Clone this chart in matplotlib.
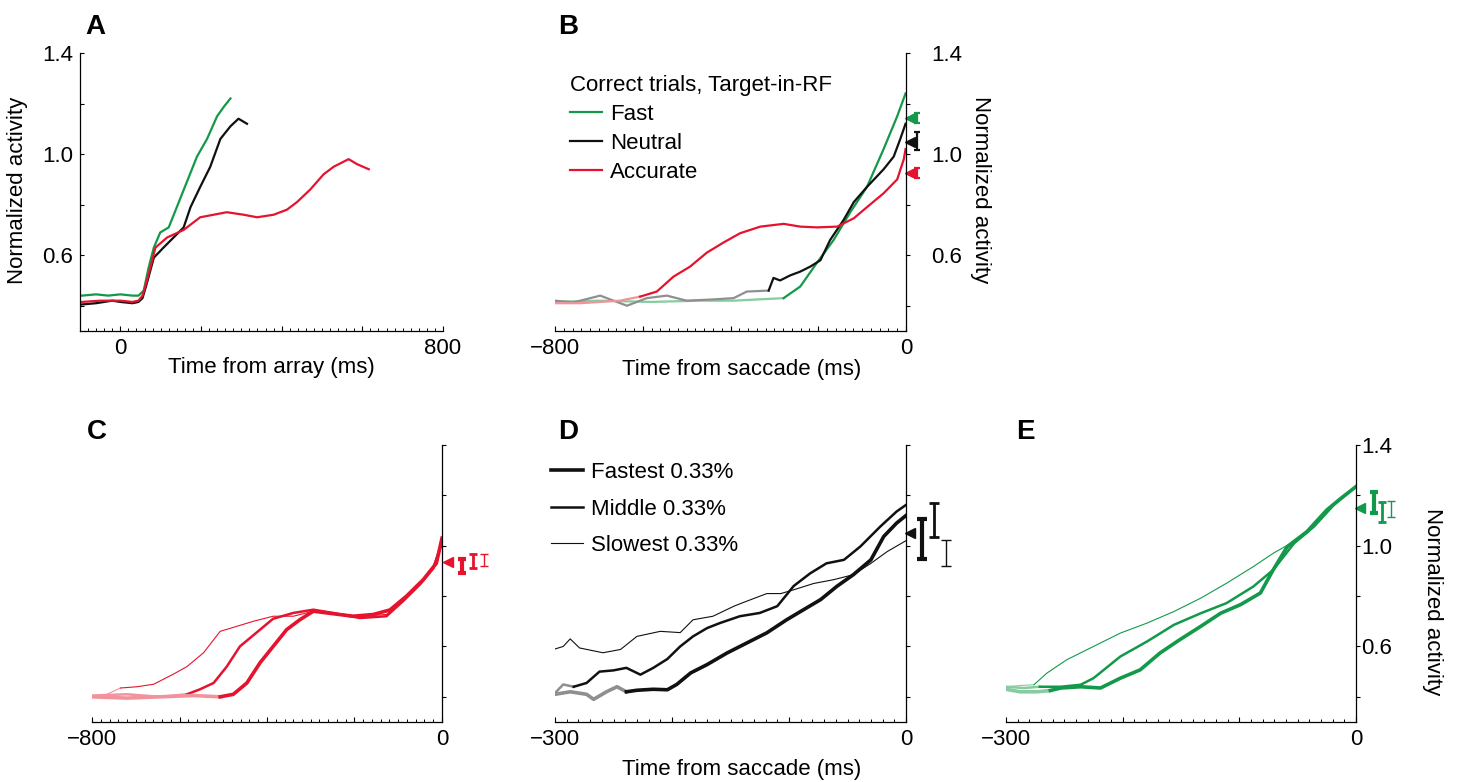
import matplotlib
matplotlib.use("Agg")
import matplotlib.pyplot as plt
import numpy as np
from matplotlib.ticker import MultipleLocator

plt.rcParams['font.family'] = ['Liberation Sans', 'DejaVu Sans']
plt.rcParams['font.size'] = 16

# ---------------- colours ----------------
GREEN = '#13994a'
LGREEN = '#86cc9e'
RED = '#e6132e'
PINK = '#f2929c'
BLACK = '#111111'
GRAY = '#8f8f8f'

# ---------------- Panel A: time from array ----------------
a_fast_t = [-95, -60, -30, 0, 30, 45, 58, 70, 83, 99, 120, 140, 165, 190, 215, 240, 258, 273]
a_fast_v = [0.44, 0.445, 0.44, 0.445, 0.44, 0.44, 0.46, 0.55, 0.63, 0.69, 0.71, 0.79, 0.89, 0.99, 1.06, 1.15, 1.19, 1.22]
a_neut_t = [-95, -60, -20, 0, 30, 45, 55, 66, 83, 107, 132, 157, 174, 198, 223, 248, 273, 293, 314]
a_neut_v = [0.405, 0.41, 0.42, 0.415, 0.41, 0.415, 0.43, 0.49, 0.59, 0.63, 0.67, 0.71, 0.79, 0.87, 0.95, 1.06, 1.11, 1.14, 1.12]
a_acc_t = [-95, -50, 0, 30, 45, 55, 66, 87, 116, 157, 198, 231, 264, 306, 339, 380, 413, 438, 471, 504, 529, 566, 587, 616]
a_acc_v = [0.415, 0.42, 0.42, 0.415, 0.42, 0.44, 0.50, 0.63, 0.67, 0.70, 0.75, 0.76, 0.77, 0.76, 0.75, 0.76, 0.78, 0.81, 0.86, 0.92, 0.95, 0.98, 0.96, 0.94]

# ---------------- Panel B: time from saccade ----------------
b_fast_t = [-800, -697, -583, -469, -393, -279, -241, -203, -165, -127, -89, -51, -20, -1]
b_fast_v = [0.416, 0.42, 0.415, 0.42, 0.42, 0.43, 0.476, 0.57, 0.66, 0.77, 0.87, 1.02, 1.15, 1.24]
b_fast_onset = -279
b_neut_t = [-800, -758, -697, -636, -591, -545, -500, -439, -393, -363, -313, -302, -287, -264, -241, -218, -195, -173, -142, -119, -89, -51, -28, -13, -1]
b_neut_v = [0.42, 0.413, 0.44, 0.40, 0.43, 0.44, 0.42, 0.425, 0.43, 0.456, 0.46, 0.51, 0.50, 0.52, 0.535, 0.555, 0.58, 0.66, 0.74, 0.81, 0.87, 0.94, 0.99, 1.06, 1.12]
b_neut_onset = -313
b_acc_t = [-800, -743, -697, -652, -606, -568, -530, -492, -454, -416, -378, -332, -279, -241, -203, -157, -119, -89, -51, -20, -5, -1]
b_acc_v = [0.41, 0.41, 0.415, 0.42, 0.436, 0.456, 0.515, 0.555, 0.61, 0.65, 0.687, 0.713, 0.724, 0.713, 0.71, 0.713, 0.746, 0.79, 0.845, 0.90, 0.98, 1.02]
b_acc_onset = -606
b_labels = ['Fast', 'Neutral', 'Accurate']
b_err_mean = [1.143, 1.049, 0.925]
b_err_lo = [1.123, 1.017, 0.905]
b_err_hi = [1.163, 1.089, 0.945]

# ---------------- Panel C: accurate, RT tertiles ----------------
c_slow_t = [-800, -766, -735, -697, -659, -614, -583, -545, -507, -469, -431, -386, -340, -294, -249, -188, -127, -89, -51, -20, 0]
c_slow_v = [0.40, 0.41, 0.435, 0.44, 0.45, 0.49, 0.52, 0.575, 0.66, 0.68, 0.70, 0.72, 0.72, 0.74, 0.733, 0.72, 0.727, 0.785, 0.85, 0.92, 1.02]
c_slow_onset = -735
c_mid_t = [-800, -720, -644, -583, -553, -522, -492, -462, -424, -386, -340, -294, -249, -188, -127, -89, -51, -20, 0]
c_mid_v = [0.405, 0.41, 0.40, 0.41, 0.43, 0.455, 0.52, 0.60, 0.655, 0.71, 0.733, 0.746, 0.733, 0.713, 0.72, 0.78, 0.845, 0.91, 1.01]
c_mid_onset = -583
c_fast_t = [-800, -720, -644, -568, -507, -477, -446, -416, -386, -355, -325, -294, -249, -203, -157, -119, -81, -43, -13, 0]
c_fast_v = [0.40, 0.395, 0.40, 0.405, 0.40, 0.41, 0.455, 0.535, 0.60, 0.667, 0.706, 0.74, 0.73, 0.72, 0.727, 0.745, 0.80, 0.865, 0.93, 1.03]
c_fast_onset = -507
c_err_mean = [0.936, 0.920, 0.940, 0.944]
c_err_lo = [0.892, 0.912, 0.920]
c_err_hi = [0.948, 0.967, 0.967]

# ---------------- Panel D: neutral, RT tertiles ----------------
d_slow_t = [-300, -293, -287, -279, -259, -244, -230, -210, -193, -182, -165, -147, -136, -119, -107, -96, -79, -62, -45, -30, -16, 0]
d_slow_v = [0.59, 0.60, 0.63, 0.594, 0.575, 0.588, 0.64, 0.66, 0.655, 0.706, 0.72, 0.76, 0.78, 0.81, 0.81, 0.825, 0.85, 0.865, 0.885, 0.93, 0.977, 1.02]
d_slow_onset = -300
d_mid_t = [-300, -293, -284, -273, -262, -250, -239, -227, -216, -204, -193, -182, -170, -159, -142, -125, -110, -96, -82, -68, -53, -39, -22, -8, 0]
d_mid_v = [0.415, 0.449, 0.44, 0.455, 0.50, 0.505, 0.515, 0.488, 0.515, 0.55, 0.60, 0.64, 0.673, 0.693, 0.72, 0.733, 0.76, 0.84, 0.89, 0.93, 0.944, 0.997, 1.076, 1.136, 1.162]
d_mid_onset = -284
d_fast_t = [-300, -287, -273, -267, -256, -247, -239, -230, -216, -204, -196, -184, -170, -153, -136, -119, -102, -85, -73, -59, -45, -30, -19, -8, 0]
d_fast_v = [0.41, 0.42, 0.41, 0.39, 0.42, 0.44, 0.42, 0.426, 0.43, 0.428, 0.449, 0.495, 0.528, 0.574, 0.614, 0.654, 0.706, 0.753, 0.786, 0.839, 0.885, 0.944, 1.037, 1.09, 1.12]
d_fast_onset = -239
d_labels = ['Fastest 0.33%', 'Middle 0.33%', 'Slowest 0.33%']
d_err_lo = [0.948, 1.036, 0.920]
d_err_hi = [1.105, 1.169, 1.023]
d_err_mean = 1.05

# ---------------- Panel E: fast, RT tertiles ----------------
e_slow_t = [-300, -288, -276, -265, -248, -225, -202, -179, -156, -133, -111, -88, -71, -53, -36, -19, 0]
e_slow_v = [0.44, 0.445, 0.448, 0.494, 0.547, 0.60, 0.653, 0.693, 0.739, 0.792, 0.851, 0.917, 0.97, 1.017, 1.076, 1.162, 1.235]
e_slow_onset = -276
e_mid_t = [-300, -285, -271, -253, -236, -225, -202, -179, -156, -133, -111, -88, -71, -53, -36, -19, 0]
e_mid_v = [0.44, 0.435, 0.44, 0.44, 0.448, 0.474, 0.56, 0.62, 0.686, 0.732, 0.772, 0.838, 0.904, 1.01, 1.076, 1.162, 1.235]
e_mid_onset = -271
e_fast_t = [-300, -288, -273, -262, -253, -236, -219, -202, -185, -168, -151, -133, -116, -99, -82, -71, -59, -42, -25, -13, 0]
e_fast_v = [0.43, 0.42, 0.42, 0.425, 0.435, 0.44, 0.435, 0.474, 0.507, 0.574, 0.627, 0.68, 0.732, 0.766, 0.812, 0.904, 0.996, 1.056, 1.142, 1.188, 1.235]
e_fast_onset = -262
e_err_lo = [1.129, 1.096, 1.115]
e_err_hi = [1.215, 1.175, 1.178]
e_err_mean = 1.151

# tick labels
y_ticks = [0.4, 0.6, 0.8, 1.0, 1.2, 1.4]
y_ticklabels = ['', '0.6', '', '1.0', '', '1.4']

# ---------------- figure ----------------
fig = plt.figure(figsize=(14.6, 7.82), dpi=100)

def px_axes(l, r, t, b):
    W, H = 1460.0, 782.0
    return fig.add_axes([l / W, 1 - b / H, (r - l) / W, (b - t) / H])

axA = px_axes(80, 443, 53, 331)
axB = px_axes(555, 906, 53, 331)
axC = px_axes(92, 442, 445, 722)
axD = px_axes(555, 906, 445, 722)
axE = px_axes(1006, 1356, 445, 722)

def style(ax, xlim, major, minor, xlabels, yside, ylabels, ypad):
    ax.set_xlim(*xlim)
    ax.set_ylim(0.3, 1.4)
    ax.patch.set_alpha(0)
    for s in ['top', 'left', 'right']:
        ax.spines[s].set_visible(False)
    ax.spines[yside].set_visible(True)
    for s in ax.spines.values():
        s.set_linewidth(0.9)
    ax.set_xticks(major)
    ax.set_xticklabels(xlabels)
    ax.xaxis.set_minor_locator(MultipleLocator(minor))
    ax.tick_params(axis='x', which='major', direction='in', length=3.5, width=0.8, pad=5, labelsize=16)
    ax.tick_params(axis='x', which='minor', direction='in', length=2, width=0.7)
    ax.set_yticks(y_ticks)
    ax.set_yticklabels(ylabels)
    if yside == 'left':
        ax.yaxis.tick_left()
        ax.tick_params(axis='y', direction='in', length=3, width=0.8, pad=ypad, labelsize=16)
    else:
        ax.yaxis.tick_right()
        ax.tick_params(axis='y', direction='out', length=3, width=0.8, pad=ypad, labelsize=16)

def draw_curve(ax, t, v, onset, dark, light, lw):
    t = np.asarray(t, float)
    v = np.asarray(v, float)
    pre = t <= onset
    post = t >= onset
    if pre.sum() > 1:
        ax.plot(t[pre], v[pre], color=light, lw=lw, solid_joinstyle='round')
    line, = ax.plot(t[post], v[post], color=dark, lw=lw, solid_joinstyle='round')
    return line

def err_bar(ax, x, lo, hi, color, lw, cap):
    mid = (lo + hi) / 2.0
    cont = ax.errorbar([x], [mid], yerr=[[mid - lo], [hi - mid]], fmt='none', ecolor=color,
                       elinewidth=lw, capsize=cap, capthick=lw)
    for art in cont.get_children():
        art.set_clip_on(False)

def tri(ax, x, y, color):
    ax.plot([x], [y], marker='<', color=color, ms=7, ls='none', clip_on=False)

# ---- A
style(axA, (-100, 800), [0, 200, 400, 600, 800], 20, ['0', '', '', '', '800'], 'left', y_ticklabels, 5)
draw_curve(axA, a_fast_t, a_fast_v, a_fast_t[0], GREEN, LGREEN, 1.6)
draw_curve(axA, a_neut_t, a_neut_v, a_neut_t[0], BLACK, GRAY, 1.6)
draw_curve(axA, a_acc_t, a_acc_v, a_acc_t[0], RED, PINK, 1.6)
axA.set_xlabel('Time from array (ms)', fontsize=16)
axA.xaxis.set_label_coords(0.526, -0.133)
axA.xaxis.label.set_va('center')
axA.set_ylabel('Normalized activity', fontsize=16)
axA.yaxis.set_label_coords(-0.171, 0.507)
axA.yaxis.label.set_va('center')

# ---- B
style(axB, (-800, 0), [-800, -600, -400, -200, 0], 20, ['\u2212800', '', '', '', '0'], 'right', y_ticklabels, 15)
l1 = draw_curve(axB, b_fast_t, b_fast_v, b_fast_onset, GREEN, LGREEN, 1.6)
l2 = draw_curve(axB, b_neut_t, b_neut_v, b_neut_onset, BLACK, GRAY, 1.6)
l3 = draw_curve(axB, b_acc_t, b_acc_v, b_acc_onset, RED, PINK, 1.6)
for col, m, lo, hi in zip([GREEN, BLACK, RED], b_err_mean, b_err_lo, b_err_hi):
    tri(axB, 9, m, col)
    err_bar(axB, 24, lo, hi, col, 1.6, 2.5)
leg = axB.legend([l1, l2, l3], b_labels, title='Correct trials, Target-in-RF', loc='upper left',
                 bbox_to_anchor=(0.0425, 0.921), frameon=False, fontsize=16, title_fontsize=16,
                 handlelength=1.45, handletextpad=0.35, labelspacing=0.36, borderpad=0,
                 borderaxespad=0, alignment='left')
axB.set_xlabel('Time from saccade (ms)', fontsize=16)
axB.xaxis.set_label_coords(0.533, -0.14)
axB.xaxis.label.set_va('center')
axB.set_ylabel('Normalized activity', fontsize=16, rotation=-90)
axB.yaxis.set_label_position('right')
axB.yaxis.set_label_coords(1.211, 0.507)
axB.yaxis.label.set_va('center')

# ---- C
style(axC, (-800, 0), [-800, -600, -400, -200, 0], 20, ['\u2212800', '', '', '', '0'], 'right', [''] * 6, 3)
draw_curve(axC, c_slow_t, c_slow_v, c_slow_onset, RED, PINK, 0.8)
draw_curve(axC, c_mid_t, c_mid_v, c_mid_onset, RED, PINK, 1.8)
draw_curve(axC, c_fast_t, c_fast_v, c_fast_onset, RED, PINK, 2.6)
tri(axC, 14, c_err_mean[0], RED)
for x, lo, hi, lw in zip([45, 71, 96], c_err_lo, c_err_hi, [3.0, 2.0, 1.0]):
    err_bar(axC, x, lo, hi, RED, lw, 3)

# ---- D
style(axD, (-300, 0), [-300, -200, -100, 0], 10, ['\u2212300', '', '', '0'], 'right', [''] * 6, 3)
lf = draw_curve(axD, d_fast_t, d_fast_v, d_fast_onset, BLACK, GRAY, 2.6)
lm = draw_curve(axD, d_mid_t, d_mid_v, d_mid_onset, BLACK, GRAY, 1.8)
ls = draw_curve(axD, d_slow_t, d_slow_v, d_slow_onset, BLACK, GRAY, 0.8)
tri(axD, 3.4, d_err_mean, BLACK)
for x, lo, hi, lw in zip([13.4, 24, 34], d_err_lo, d_err_hi, [3.0, 2.0, 1.0]):
    err_bar(axD, x, lo, hi, BLACK, lw, 3.5)
axD.legend([lf, lm, ls], d_labels, loc='upper left', bbox_to_anchor=(-0.0115, 0.9386), frameon=False,
           fontsize=16, handlelength=1.45, handletextpad=0.36, labelspacing=0.7, borderpad=0,
           borderaxespad=0)
axD.set_xlabel('Time from saccade (ms)', fontsize=16)
axD.xaxis.set_label_coords(0.533, -0.173)
axD.xaxis.label.set_va('center')

# ---- E
style(axE, (-300, 0), [-300, -200, -100, 0], 10, ['\u2212300', '', '', '0'], 'right', y_ticklabels, 1)
draw_curve(axE, e_slow_t, e_slow_v, e_slow_onset, GREEN, LGREEN, 0.8)
draw_curve(axE, e_mid_t, e_mid_v, e_mid_onset, GREEN, LGREEN, 1.8)
draw_curve(axE, e_fast_t, e_fast_v, e_fast_onset, GREEN, LGREEN, 2.6)
tri(axE, 3.4, e_err_mean, GREEN)
for x, lo, hi, lw in zip([15, 22.6, 30], e_err_lo, e_err_hi, [3.0, 2.0, 1.0]):
    err_bar(axE, x, lo, hi, GREEN, lw, 3)
axE.set_ylabel('Normalized activity', fontsize=16, rotation=-90)
axE.yaxis.set_label_position('right')
axE.yaxis.set_label_coords(1.22, 0.433)
axE.yaxis.label.set_va('center')

# ---- panel letters
for letter, x, y in [('A', 95, 27), ('B', 568, 27), ('C', 97, 432), ('D', 568, 432), ('E', 1025, 432)]:
    fig.text(x / 1460, 1 - y / 782, letter, fontsize=20, fontweight='bold', ha='center', va='center')

fig.savefig('out.png', dpi=100)
